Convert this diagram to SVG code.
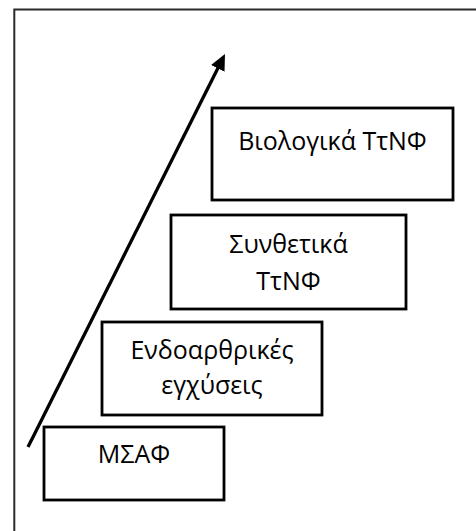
<svg xmlns="http://www.w3.org/2000/svg" width="476" height="531" viewBox="0 0 476 531">
  <style>
    .frame { fill: none; stroke: #2a2a2a; stroke-width: 2; }
    .box { fill: #fff; stroke: #000; stroke-width: 2.8; }
    .label { font-family: "Open Sans", "Noto Sans", "DejaVu Sans", sans-serif; font-size: 25px; fill: #000; text-anchor: middle; }
    .arrow { fill: none; stroke: #000; stroke-width: 3.3; }
  </style>
  <defs>
    <!-- filled triangular head; tip sits 12px past the end of the shaft -->
    <marker id="head" markerUnits="userSpaceOnUse" markerWidth="18" markerHeight="16" refX="4" refY="7.5" orient="auto">
      <path d="M0,0 L16,7.5 L0,15 Z" fill="#000"/>
    </marker>
  </defs>
  <rect width="476" height="531" fill="#fff"/>
  <!-- surrounding frame, open towards the right and bottom edges -->
  <path class="frame" d="M14.3,531 V9.5 H476"/>

  <g id="connectors">
    <line class="arrow" x1="28" y1="447" x2="219.6" y2="64.7" marker-end="url(#head)"/>
  </g>

  <g id="node-biologika">
    <rect class="box" x="212" y="108" width="241" height="92"/>
    <text class="label" x="332.5" y="150">Βιολογικά ΤτΝΦ</text>
  </g>
  <g id="node-synthetika">
    <rect class="box" x="171" y="215" width="235" height="94"/>
    <text class="label" x="288.5" y="253">Συνθετικά</text>
    <text class="label" x="288.5" y="290">ΤτΝΦ</text>
  </g>
  <g id="node-endoarthrikes">
    <rect class="box" x="102" y="322" width="220" height="93"/>
    <text class="label" x="212" y="359">Ενδοαρθρικές</text>
    <text class="label" x="212" y="394">εγχύσεις</text>
  </g>
  <g id="node-msaf">
    <rect class="box" x="44" y="427" width="180" height="73"/>
    <text class="label" x="134" y="463">ΜΣΑΦ</text>
  </g>
</svg>
